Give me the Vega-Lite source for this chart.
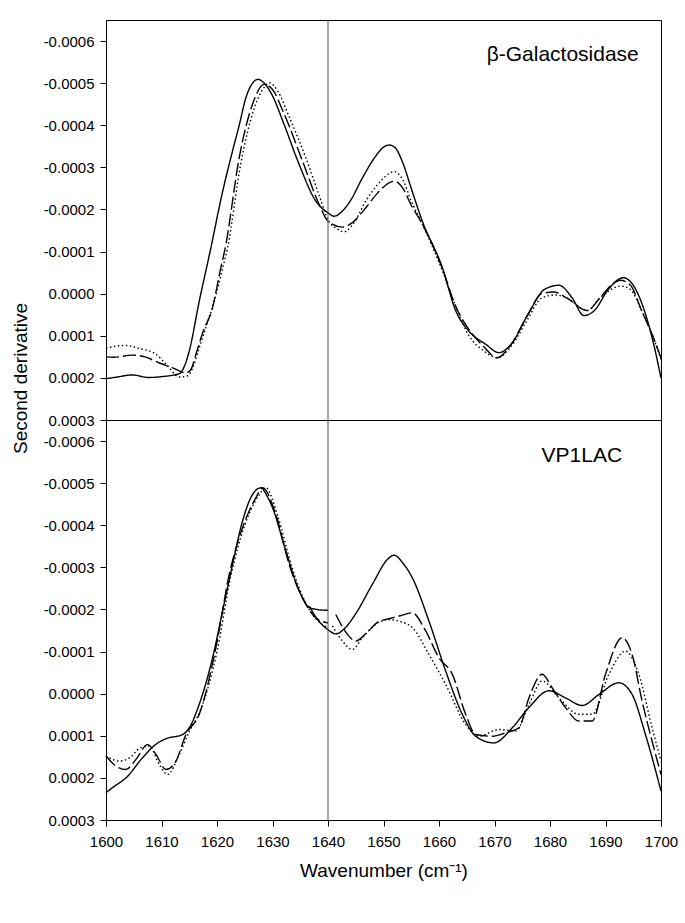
{
  "$schema": "https://vega.github.io/schema/vega-lite/v6.json",
  "padding": {"left": 10, "top": 19, "right": 5, "bottom": 5},
  "spacing": 0,
  "bounds": "flush",
  "config": {
    "font": "Liberation Sans",
    "view": {"stroke": "black", "strokeWidth": 1},
    "axis": {"domainColor": "black", "tickColor": "black", "labelColor": "black", "titleColor": "black", "grid": false, "labelFontSize": 15, "titleFontSize": 19, "titleFontWeight": "normal", "tickSize": 6, "labelPadding": 6, "labelFlush": false, "labelOverlap": false, "labelFont": "Liberation Sans", "titleFont": "Liberation Sans"}
  },
  "datasets": {
    "top": [
      {"s":"solid","g":"T1","x":1600,"y":0.000202},{"s":"solid","g":"T1","x":1602,"y":0.000198},{"s":"solid","g":"T1","x":1604.7,"y":0.000193},{"s":"solid","g":"T1","x":1607.7,"y":0.000199},{"s":"solid","g":"T1","x":1610,"y":0.000197},{"s":"solid","g":"T1","x":1613.2,"y":0.00019},{"s":"solid","g":"T1","x":1614.2,"y":0.00017},{"s":"solid","g":"T1","x":1615,"y":0.000136},{"s":"solid","g":"T1","x":1616.8,"y":0.000018},{"s":"solid","g":"T1","x":1618.9,"y":-0.000109},{"s":"solid","g":"T1","x":1620.8,"y":-0.00023},{"s":"solid","g":"T1","x":1622.8,"y":-0.000339},{"s":"solid","g":"T1","x":1624,"y":-0.0004},{"s":"solid","g":"T1","x":1625.2,"y":-0.000465},{"s":"solid","g":"T1","x":1626.4,"y":-0.0005},{"s":"solid","g":"T1","x":1627.4,"y":-0.000509},{"s":"solid","g":"T1","x":1628.5,"y":-0.0005},{"s":"solid","g":"T1","x":1630,"y":-0.00047},{"s":"solid","g":"T1","x":1632,"y":-0.000405},{"s":"solid","g":"T1","x":1634.8,"y":-0.000307},{"s":"solid","g":"T1","x":1637.8,"y":-0.00022},{"s":"solid","g":"T1","x":1640,"y":-0.000192},{"s":"solid","g":"T1","x":1641.1,"y":-0.000184},{"s":"solid","g":"T1","x":1642.5,"y":-0.000195},{"s":"solid","g":"T1","x":1644,"y":-0.00022},{"s":"solid","g":"T1","x":1646.2,"y":-0.000275},{"s":"solid","g":"T1","x":1648.5,"y":-0.000325},{"s":"solid","g":"T1","x":1650,"y":-0.000348},{"s":"solid","g":"T1","x":1651,"y":-0.000353},{"s":"solid","g":"T1","x":1652,"y":-0.000348},{"s":"solid","g":"T1","x":1653.5,"y":-0.00031},{"s":"solid","g":"T1","x":1655,"y":-0.00025},{"s":"solid","g":"T1","x":1657,"y":-0.000172},{"s":"solid","g":"T1","x":1660.6,"y":-0.000062},{"s":"solid","g":"T1","x":1663,"y":0.00004},{"s":"solid","g":"T1","x":1665.4,"y":0.000089},{"s":"solid","g":"T1","x":1668.4,"y":0.00012},{"s":"solid","g":"T1","x":1670.8,"y":0.00014},{"s":"solid","g":"T1","x":1673,"y":0.00012},{"s":"solid","g":"T1","x":1676,"y":0.00005},{"s":"solid","g":"T1","x":1679,"y":-0.00001},{"s":"solid","g":"T1","x":1681.6,"y":-0.00002},{"s":"solid","g":"T1","x":1684,"y":0.00001},{"s":"solid","g":"T1","x":1686.1,"y":0.000052},{"s":"solid","g":"T1","x":1688,"y":0.00004},{"s":"solid","g":"T1","x":1690.5,"y":-0.00001},{"s":"solid","g":"T1","x":1693.2,"y":-0.000038},{"s":"solid","g":"T1","x":1695,"y":-0.00002},{"s":"solid","g":"T1","x":1697,"y":0.00004},{"s":"solid","g":"T1","x":1698.5,"y":0.00011},{"s":"solid","g":"T1","x":1700,"y":0.0002},
      {"s":"dash","g":"T2","x":1600,"y":0.00015},{"s":"dash","g":"T2","x":1601.4,"y":0.000151},{"s":"dash","g":"T2","x":1604.7,"y":0.000146},{"s":"dash","g":"T2","x":1607,"y":0.00015},{"s":"dash","g":"T2","x":1609.5,"y":0.000164},{"s":"dash","g":"T2","x":1612,"y":0.000176},{"s":"dash","g":"T2","x":1614.4,"y":0.000188},{"s":"dash","g":"T2","x":1615.3,"y":0.00018},{"s":"dash","g":"T2","x":1616.2,"y":0.000144},{"s":"dash","g":"T2","x":1617.5,"y":0.00009},{"s":"dash","g":"T2","x":1619.2,"y":0.000033},{"s":"dash","g":"T2","x":1620.5,"y":-0.00005},{"s":"dash","g":"T2","x":1621.6,"y":-0.000117},{"s":"dash","g":"T2","x":1624,"y":-0.000323},{"s":"dash","g":"T2","x":1626.4,"y":-0.00045},{"s":"dash","g":"T2","x":1628.5,"y":-0.000497},{"s":"dash","g":"T2","x":1630,"y":-0.000485},{"s":"dash","g":"T2","x":1632,"y":-0.00043},{"s":"dash","g":"T2","x":1635.4,"y":-0.000315},{"s":"dash","g":"T2","x":1638.4,"y":-0.000212},{"s":"dash","g":"T2","x":1640,"y":-0.000172},{"s":"dash","g":"T2","x":1642.6,"y":-0.000158},{"s":"dash","g":"T2","x":1644.5,"y":-0.00017},{"s":"dash","g":"T2","x":1646.8,"y":-0.000204},{"s":"dash","g":"T2","x":1649,"y":-0.00024},{"s":"dash","g":"T2","x":1651,"y":-0.000263},{"s":"dash","g":"T2","x":1652,"y":-0.000267},{"s":"dash","g":"T2","x":1653.5,"y":-0.00025},{"s":"dash","g":"T2","x":1655,"y":-0.00021},{"s":"dash","g":"T2","x":1657,"y":-0.000165},{"s":"dash","g":"T2","x":1660.6,"y":-0.00006},{"s":"dash","g":"T2","x":1663,"y":0.00003},{"s":"dash","g":"T2","x":1665.4,"y":0.000085},{"s":"dash","g":"T2","x":1668,"y":0.000125},{"s":"dash","g":"T2","x":1670.5,"y":0.000152},{"s":"dash","g":"T2","x":1673,"y":0.00012},{"s":"dash","g":"T2","x":1676,"y":0.00005},{"s":"dash","g":"T2","x":1678.5,"y":0.0},{"s":"dash","g":"T2","x":1680.7,"y":-0.000004},{"s":"dash","g":"T2","x":1683,"y":0.00001},{"s":"dash","g":"T2","x":1686.7,"y":0.00004},{"s":"dash","g":"T2","x":1689,"y":0.00001},{"s":"dash","g":"T2","x":1691,"y":-0.00002},{"s":"dash","g":"T2","x":1692.7,"y":-0.000032},{"s":"dash","g":"T2","x":1694.5,"y":-0.00002},{"s":"dash","g":"T2","x":1696.5,"y":0.00004},{"s":"dash","g":"T2","x":1698.5,"y":0.0001},{"s":"dash","g":"T2","x":1700,"y":0.000152},
      {"s":"dot","g":"T3","x":1600,"y":0.000129},{"s":"dot","g":"T3","x":1603.5,"y":0.000123},{"s":"dot","g":"T3","x":1606,"y":0.00013},{"s":"dot","g":"T3","x":1609,"y":0.000144},{"s":"dot","g":"T3","x":1611,"y":0.00017},{"s":"dot","g":"T3","x":1613.2,"y":0.000198},{"s":"dot","g":"T3","x":1614.7,"y":0.000195},{"s":"dot","g":"T3","x":1615.8,"y":0.00017},{"s":"dot","g":"T3","x":1616.8,"y":0.000129},{"s":"dot","g":"T3","x":1618,"y":0.00008},{"s":"dot","g":"T3","x":1619.5,"y":0.000018},{"s":"dot","g":"T3","x":1621,"y":-0.00006},{"s":"dot","g":"T3","x":1621.9,"y":-0.000109},{"s":"dot","g":"T3","x":1624.3,"y":-0.00031},{"s":"dot","g":"T3","x":1626.7,"y":-0.00044},{"s":"dot","g":"T3","x":1628.5,"y":-0.00049},{"s":"dot","g":"T3","x":1629.4,"y":-0.000501},{"s":"dot","g":"T3","x":1631,"y":-0.00048},{"s":"dot","g":"T3","x":1633,"y":-0.00042},{"s":"dot","g":"T3","x":1636,"y":-0.000323},{"s":"dot","g":"T3","x":1638.5,"y":-0.00023},{"s":"dot","g":"T3","x":1640,"y":-0.000175},{"s":"dot","g":"T3","x":1641.5,"y":-0.000155},{"s":"dot","g":"T3","x":1642.9,"y":-0.000147},{"s":"dot","g":"T3","x":1644.5,"y":-0.000165},{"s":"dot","g":"T3","x":1646.8,"y":-0.00022},{"s":"dot","g":"T3","x":1649,"y":-0.00026},{"s":"dot","g":"T3","x":1651,"y":-0.000285},{"s":"dot","g":"T3","x":1651.9,"y":-0.00029},{"s":"dot","g":"T3","x":1653.5,"y":-0.00027},{"s":"dot","g":"T3","x":1655,"y":-0.00022},{"s":"dot","g":"T3","x":1657,"y":-0.000165},{"s":"dot","g":"T3","x":1660.6,"y":-0.000055},{"s":"dot","g":"T3","x":1663,"y":0.00003},{"s":"dot","g":"T3","x":1665.4,"y":0.0001},{"s":"dot","g":"T3","x":1668,"y":0.000135},{"s":"dot","g":"T3","x":1670.5,"y":0.000152},{"s":"dot","g":"T3","x":1673,"y":0.000125},{"s":"dot","g":"T3","x":1676,"y":0.00006},{"s":"dot","g":"T3","x":1678.5,"y":0.00001},{"s":"dot","g":"T3","x":1681,"y":0.000003},{"s":"dot","g":"T3","x":1683,"y":0.00001},{"s":"dot","g":"T3","x":1686.7,"y":0.00004},{"s":"dot","g":"T3","x":1689,"y":0.00001},{"s":"dot","g":"T3","x":1691,"y":-0.00001},{"s":"dot","g":"T3","x":1692.7,"y":-0.000018},{"s":"dot","g":"T3","x":1694.5,"y":-0.00001},{"s":"dot","g":"T3","x":1696.5,"y":0.00004},{"s":"dot","g":"T3","x":1698.5,"y":0.0001},{"s":"dot","g":"T3","x":1700,"y":0.000156}
    ],
    "bottom": [
      {"s":"solid","g":"B1","x":1600,"y":0.000235},{"s":"solid","g":"B1","x":1601.5,"y":0.00022},{"s":"solid","g":"B1","x":1603.6,"y":0.0002},{"s":"solid","g":"B1","x":1606.6,"y":0.000152},{"s":"solid","g":"B1","x":1609,"y":0.00012},{"s":"solid","g":"B1","x":1610.8,"y":0.000107},{"s":"solid","g":"B1","x":1613.8,"y":0.000097},{"s":"solid","g":"B1","x":1615,"y":0.000081},{"s":"solid","g":"B1","x":1616.8,"y":0.000025},{"s":"solid","g":"B1","x":1619.2,"y":-0.000085},{"s":"solid","g":"B1","x":1621,"y":-0.000196},{"s":"solid","g":"B1","x":1622.8,"y":-0.000307},{"s":"solid","g":"B1","x":1624.6,"y":-0.00041},{"s":"solid","g":"B1","x":1626.4,"y":-0.000473},{"s":"solid","g":"B1","x":1627.9,"y":-0.000489},{"s":"solid","g":"B1","x":1629,"y":-0.00047},{"s":"solid","g":"B1","x":1630,"y":-0.000442},{"s":"solid","g":"B1","x":1632.4,"y":-0.000339},{"s":"solid","g":"B1","x":1634.8,"y":-0.000244},{"s":"solid","g":"B1","x":1636.6,"y":-0.000205},{"s":"solid","g":"B1","x":1638,"y":-0.0002},{"s":"solid","g":"B1","x":1640,"y":-0.000198},
      {"s":"solid","g":"B2","x":1636.6,"y":-0.000208},{"s":"solid","g":"B2","x":1638.5,"y":-0.00017},{"s":"solid","g":"B2","x":1640,"y":-0.000152},{"s":"solid","g":"B2","x":1641.4,"y":-0.000142},{"s":"solid","g":"B2","x":1643,"y":-0.000155},{"s":"solid","g":"B2","x":1645,"y":-0.00019},{"s":"solid","g":"B2","x":1648,"y":-0.00026},{"s":"solid","g":"B2","x":1650.8,"y":-0.00032},{"s":"solid","g":"B2","x":1651.9,"y":-0.000329},{"s":"solid","g":"B2","x":1653.5,"y":-0.00031},{"s":"solid","g":"B2","x":1655.2,"y":-0.000275},{"s":"solid","g":"B2","x":1658.2,"y":-0.000172},{"s":"solid","g":"B2","x":1661.2,"y":-0.000054},{"s":"solid","g":"B2","x":1664.2,"y":0.000049},{"s":"solid","g":"B2","x":1666.6,"y":0.000101},{"s":"solid","g":"B2","x":1669.9,"y":0.000117},{"s":"solid","g":"B2","x":1673.2,"y":0.000081},{"s":"solid","g":"B2","x":1676.2,"y":0.000033},{"s":"solid","g":"B2","x":1679.8,"y":-0.000007},{"s":"solid","g":"B2","x":1682.8,"y":0.00001},{"s":"solid","g":"B2","x":1685.8,"y":0.000028},{"s":"solid","g":"B2","x":1688.8,"y":0.000002},{"s":"solid","g":"B2","x":1692.4,"y":-0.000026},{"s":"solid","g":"B2","x":1694.8,"y":0.000002},{"s":"solid","g":"B2","x":1697.2,"y":0.000097},{"s":"solid","g":"B2","x":1700,"y":0.000231},
      {"s":"dash","g":"B3","x":1600,"y":0.000148},{"s":"dash","g":"B3","x":1601.8,"y":0.000172},{"s":"dash","g":"B3","x":1603.6,"y":0.00018},{"s":"dash","g":"B3","x":1605.4,"y":0.000156},{"s":"dash","g":"B3","x":1607.5,"y":0.000121},{"s":"dash","g":"B3","x":1609,"y":0.000144},{"s":"dash","g":"B3","x":1610.8,"y":0.00018},{"s":"dash","g":"B3","x":1612.6,"y":0.00016},{"s":"dash","g":"B3","x":1614.4,"y":0.000097},{"s":"dash","g":"B3","x":1616.8,"y":0.000049},{"s":"dash","g":"B3","x":1619.8,"y":-0.000109},{"s":"dash","g":"B3","x":1622.2,"y":-0.000283},{"s":"dash","g":"B3","x":1624.6,"y":-0.000394},{"s":"dash","g":"B3","x":1627,"y":-0.000465},{"s":"dash","g":"B3","x":1628.2,"y":-0.000489},{"s":"dash","g":"B3","x":1630.6,"y":-0.000426},{"s":"dash","g":"B3","x":1633,"y":-0.000307},{"s":"dash","g":"B3","x":1635.4,"y":-0.000228},{"s":"dash","g":"B3","x":1637.8,"y":-0.00018},{"s":"dash","g":"B3","x":1640,"y":-0.000168},
      {"s":"dash","g":"B4","x":1641.4,"y":-0.000188},{"s":"dash","g":"B4","x":1643.5,"y":-0.000141},{"s":"dash","g":"B4","x":1645,"y":-0.000125},{"s":"dash","g":"B4","x":1647,"y":-0.000145},{"s":"dash","g":"B4","x":1649.2,"y":-0.000172},{"s":"dash","g":"B4","x":1651,"y":-0.000178},{"s":"dash","g":"B4","x":1653,"y":-0.000185},{"s":"dash","g":"B4","x":1655.2,"y":-0.000192},{"s":"dash","g":"B4","x":1657.6,"y":-0.000149},{"s":"dash","g":"B4","x":1660,"y":-0.000085},{"s":"dash","g":"B4","x":1662.4,"y":-0.000046},{"s":"dash","g":"B4","x":1664.8,"y":0.000049},{"s":"dash","g":"B4","x":1666.6,"y":0.000097},{"s":"dash","g":"B4","x":1669.6,"y":0.000101},{"s":"dash","g":"B4","x":1672,"y":0.000093},{"s":"dash","g":"B4","x":1674.4,"y":0.000081},{"s":"dash","g":"B4","x":1676.2,"y":0.00001},{"s":"dash","g":"B4","x":1678.6,"y":-0.000046},{"s":"dash","g":"B4","x":1680.4,"y":-0.000014},{"s":"dash","g":"B4","x":1682.8,"y":0.000033},{"s":"dash","g":"B4","x":1685.2,"y":0.000065},{"s":"dash","g":"B4","x":1687.6,"y":0.000065},{"s":"dash","g":"B4","x":1690,"y":-0.000046},{"s":"dash","g":"B4","x":1693,"y":-0.000133},{"s":"dash","g":"B4","x":1694.8,"y":-0.000093},{"s":"dash","g":"B4","x":1696.6,"y":0.000018},{"s":"dash","g":"B4","x":1698.4,"y":0.000113},{"s":"dash","g":"B4","x":1700,"y":0.000192},
      {"s":"dot","g":"B5","x":1600,"y":0.000148},{"s":"dot","g":"B5","x":1602.4,"y":0.00016},{"s":"dot","g":"B5","x":1604.5,"y":0.00015},{"s":"dot","g":"B5","x":1606,"y":0.00013},{"s":"dot","g":"B5","x":1607.8,"y":0.000124},{"s":"dot","g":"B5","x":1609.6,"y":0.000168},{"s":"dot","g":"B5","x":1611.1,"y":0.000192},{"s":"dot","g":"B5","x":1613.2,"y":0.000144},{"s":"dot","g":"B5","x":1615,"y":0.00009},{"s":"dot","g":"B5","x":1617,"y":0.00004},{"s":"dot","g":"B5","x":1620,"y":-0.0001},{"s":"dot","g":"B5","x":1622.5,"y":-0.00028},{"s":"dot","g":"B5","x":1625,"y":-0.0004},{"s":"dot","g":"B5","x":1627.5,"y":-0.00047},{"s":"dot","g":"B5","x":1628.8,"y":-0.000489},{"s":"dot","g":"B5","x":1631,"y":-0.00042},{"s":"dot","g":"B5","x":1633.5,"y":-0.0003},{"s":"dot","g":"B5","x":1636,"y":-0.000215},{"s":"dot","g":"B5","x":1638,"y":-0.000175},{"s":"dot","g":"B5","x":1640,"y":-0.000157},
      {"s":"dot","g":"B6","x":1640.8,"y":-0.000161},{"s":"dot","g":"B6","x":1642.6,"y":-0.000125},{"s":"dot","g":"B6","x":1644.4,"y":-0.000105},{"s":"dot","g":"B6","x":1646.2,"y":-0.000133},{"s":"dot","g":"B6","x":1648.6,"y":-0.000165},{"s":"dot","g":"B6","x":1651,"y":-0.000176},{"s":"dot","g":"B6","x":1652.8,"y":-0.000172},{"s":"dot","g":"B6","x":1655.2,"y":-0.000157},{"s":"dot","g":"B6","x":1658.2,"y":-0.000093},{"s":"dot","g":"B6","x":1661.2,"y":-0.000022},{"s":"dot","g":"B6","x":1664.8,"y":0.000073},{"s":"dot","g":"B6","x":1667.2,"y":0.000101},{"s":"dot","g":"B6","x":1670.8,"y":0.000085},{"s":"dot","g":"B6","x":1673.8,"y":0.000089},{"s":"dot","g":"B6","x":1676.2,"y":0.000026},{"s":"dot","g":"B6","x":1678.6,"y":-0.00003},{"s":"dot","g":"B6","x":1681.6,"y":0.00001},{"s":"dot","g":"B6","x":1685.2,"y":0.000049},{"s":"dot","g":"B6","x":1687.6,"y":0.000049},{"s":"dot","g":"B6","x":1690.6,"y":-0.000046},{"s":"dot","g":"B6","x":1693.6,"y":-0.000101},{"s":"dot","g":"B6","x":1696,"y":-0.000046},{"s":"dot","g":"B6","x":1698.4,"y":0.000081},{"s":"dot","g":"B6","x":1700,"y":0.00016}
    ],
    "labelTop": [{"label": "β-Galactosidase", "x": 1696, "y": -0.000552}],
    "labelBottom": [{"label": "VP1LAC", "x": 1693, "y": -0.00055}],
    "marker": [{"x": 1640}]
  },
  "vconcat": [
    {
      "width": 555,
      "height": 400,
      "layer": [
        {
          "data": {"name": "top"},
          "mark": {"type": "line", "interpolate": "monotone", "strokeWidth": 1.4, "color": "black"},
          "encoding": {
            "x": {"field": "x", "type": "quantitative", "scale": {"domain": [1600, 1700], "nice": false, "zero": false}, "axis": null},
            "y": {"field": "y", "type": "quantitative", "scale": {"domain": [-0.00065, 0.0003], "reverse": true, "nice": false, "zero": false},
                  "axis": {"values": [-0.0006, -0.0005, -0.0004, -0.0003, -0.0002, -0.0001, 0, 0.0001, 0.0002, 0.0003], "format": ".4f", "labelExpr": "replace(datum.label, '−', '-')", "title": "Second derivative", "titleX": -80, "titleY": 358, "titleAngle": -90, "titleAlign": "center", "titleBaseline": "alphabetic", "titleFontSize": 19}},
            "strokeDash": {"field": "s", "type": "nominal", "scale": {"domain": ["solid", "dash", "dot"], "range": [[1, 0], [13, 4], [1.5, 2.5]]}, "legend": null},
            "detail": {"field": "g"}
          }
        },
        {
          "data": {"name": "marker"},
          "mark": {"type": "rule", "color": "#555555", "strokeWidth": 1},
          "encoding": {"x": {"field": "x", "type": "quantitative", "axis": null}}
        },
        {
          "data": {"name": "labelTop"},
          "mark": {"type": "text", "align": "right", "baseline": "alphabetic", "fontSize": 21, "color": "black"},
          "encoding": {
            "x": {"field": "x", "type": "quantitative", "axis": null},
            "y": {"field": "y", "type": "quantitative"},
            "text": {"field": "label"}
          }
        }
      ]
    },
    {
      "width": 555,
      "height": 400,
      "layer": [
        {
          "data": {"name": "bottom"},
          "mark": {"type": "line", "interpolate": "monotone", "strokeWidth": 1.4, "color": "black"},
          "encoding": {
            "x": {"field": "x", "type": "quantitative", "scale": {"domain": [1600, 1700], "nice": false, "zero": false},
                  "axis": {"values": [1600, 1610, 1620, 1630, 1640, 1650, 1660, 1670, 1680, 1690, 1700], "format": "d", "title": "Wavenumber (cm⁻¹)", "labelPadding": 8, "titlePadding": 12}},
            "y": {"field": "y", "type": "quantitative", "scale": {"domain": [-0.00065, 0.0003], "reverse": true, "nice": false, "zero": false},
                  "axis": {"values": [-0.0006, -0.0005, -0.0004, -0.0003, -0.0002, -0.0001, 0, 0.0001, 0.0002, 0.0003], "format": ".4f", "labelExpr": "replace(datum.label, '−', '-')", "title": null}},
            "strokeDash": {"field": "s", "type": "nominal", "scale": {"domain": ["solid", "dash", "dot"], "range": [[1, 0], [13, 4], [1.5, 2.5]]}, "legend": null},
            "detail": {"field": "g"}
          }
        },
        {
          "data": {"name": "marker"},
          "mark": {"type": "rule", "color": "#555555", "strokeWidth": 1},
          "encoding": {"x": {"field": "x", "type": "quantitative"}}
        },
        {
          "data": {"name": "labelBottom"},
          "mark": {"type": "text", "align": "right", "baseline": "alphabetic", "fontSize": 21, "color": "black"},
          "encoding": {
            "x": {"field": "x", "type": "quantitative"},
            "y": {"field": "y", "type": "quantitative"},
            "text": {"field": "label"}
          }
        }
      ]
    }
  ]
}
